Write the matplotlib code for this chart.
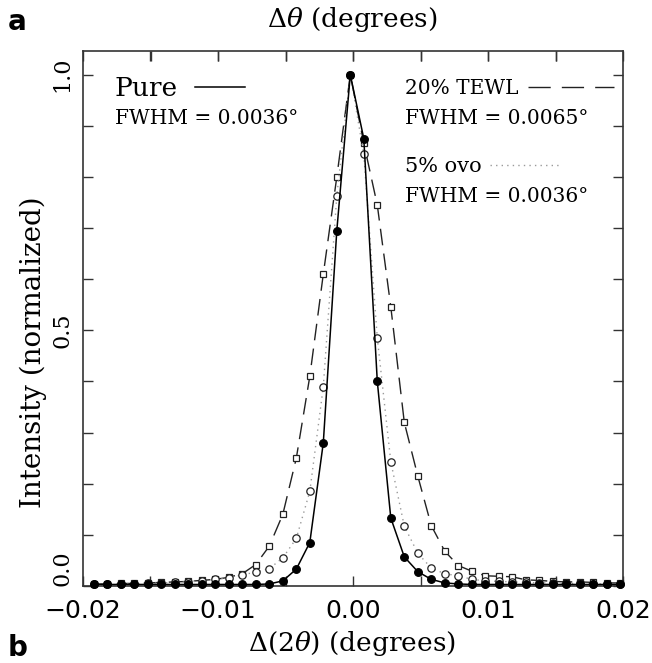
import matplotlib
matplotlib.use('Agg')
import matplotlib.pyplot as plt
from matplotlib.ticker import MultipleLocator, NullFormatter, FixedLocator
from matplotlib.lines import Line2D

plt.rcParams['mathtext.fontset'] = 'dejavuserif'
plt.rcParams['font.family'] = 'DejaVu Serif'

# ---- data ----
delta_2theta = [-0.0192, -0.0182, -0.0172, -0.0162, -0.0152, -0.0142, -0.0132, -0.0122,
                -0.0112, -0.0102, -0.0092, -0.0082, -0.0072, -0.0062, -0.0052, -0.0042,
                -0.0032, -0.0022, -0.0012, -0.0002, 0.0008, 0.0018, 0.0028, 0.0038,
                0.0048, 0.0058, 0.0068, 0.0078, 0.0088, 0.0098, 0.0108, 0.0118,
                0.0128, 0.0138, 0.0148, 0.0158, 0.0168, 0.0178, 0.0188, 0.0198]

pure = [0.003, 0.003, 0.003, 0.003, 0.003, 0.003, 0.003, 0.003,
        0.003, 0.003, 0.003, 0.003, 0.003, 0.004, 0.010, 0.033,
        0.085, 0.28, 0.695, 1.0, 0.875, 0.40, 0.133, 0.057,
        0.028, 0.013, 0.006, 0.004, 0.003, 0.003, 0.003, 0.003,
        0.003, 0.003, 0.003, 0.003, 0.003, 0.003, 0.003, 0.003]

tewl = [0.004, 0.004, 0.005, 0.005, 0.006, 0.007, 0.008, 0.009,
        0.011, 0.013, 0.017, 0.024, 0.042, 0.078, 0.14, 0.25,
        0.41, 0.61, 0.80, 1.0, 0.866, 0.745, 0.546, 0.32,
        0.215, 0.118, 0.068, 0.040, 0.029, 0.020, 0.019, 0.018,
        0.012, 0.011, 0.009, 0.008, 0.008, 0.007, 0.006, 0.006]

ovo = [0.003, 0.003, 0.004, 0.004, 0.005, 0.006, 0.007, 0.008,
       0.010, 0.013, 0.016, 0.022, 0.027, 0.034, 0.055, 0.093,
       0.185, 0.39, 0.763, 1.0, 0.844, 0.485, 0.243, 0.117,
       0.064, 0.035, 0.024, 0.020, 0.013, 0.010, 0.009, 0.008,
       0.007, 0.006, 0.006, 0.005, 0.005, 0.004, 0.004, 0.004]

x_tick_labels = ['\u22120.02', '\u22120.01', '0.00', '0.01', '0.02']
y_tick_labels = ['0.0', '0.5', '1.0']

W, H = 652, 663
def fx(px):
    return px / W
def fy(py):
    return 1 - py / H

fig = plt.figure(figsize=(W / 100, H / 100), dpi=100)
ax = fig.add_axes([fx(83), fy(586), (623 - 83) / W, (586 - 50.7) / H])

# series
ax.plot(delta_2theta, tewl, color='#222222', lw=1.0, ls=(0, (12, 6)),
        marker='s', ms=4.3, mfc='white', mec='#222222', mew=0.9, clip_on=False, zorder=3)
ax.plot(delta_2theta, ovo, color='#9a9a9a', lw=1.0, ls=(0, (1, 3)),
        marker='o', ms=5.3, mfc='white', mec='#222222', mew=0.9, clip_on=False, zorder=3)
ax.plot(delta_2theta, pure, color='black', lw=1.1, ls='-',
        marker='o', ms=5.5, mfc='black', mec='black', mew=0.9, clip_on=False, zorder=4)

ax.set_xlim(-0.02, 0.02)
ax.set_ylim(0.0, 1.047)

# ticks
ax.xaxis.set_major_locator(FixedLocator([-0.02, -0.01, 0.0, 0.01, 0.02]))
ax.set_xticklabels(x_tick_labels, family='DejaVu Sans', fontsize=18)
ax.xaxis.set_minor_locator(MultipleLocator(0.005))
ax.yaxis.set_major_locator(FixedLocator([0.0, 0.5, 1.0]))
ax.set_yticklabels(y_tick_labels, fontsize=16, rotation=90, va='center')
ax.get_yticklabels()[0].set_va('bottom')
ax.yaxis.set_minor_locator(MultipleLocator(0.1))
ax.tick_params(which='both', direction='in', length=7, width=1.0,
               top=True, right=True, color='#333333')
ax.tick_params(axis='x', which='major', pad=9)
ax.tick_params(axis='y', which='major', pad=7)
for s in ax.spines.values():
    s.set_linewidth(1.2)
    s.set_color('#333333')

# top axis: delta theta (half of delta 2theta)
sec = ax.secondary_xaxis('top', functions=(lambda v: v / 2, lambda v: v * 2))
sec.set_xticks([-0.0075, -0.005, -0.0025, 0.0, 0.0025, 0.005, 0.0075])
sec.xaxis.set_major_formatter(NullFormatter())
sec.tick_params(direction='in', length=7, width=1.0, color='#333333')
sec.spines['top'].set_visible(False)

# axis titles
fig.text(fx(352), fy(20), r'$\Delta\theta$ (degrees)', ha='center', va='center', fontsize=19)
fig.text(fx(352), fy(643), r'$\Delta(2\theta)$ (degrees)', ha='center', va='center', fontsize=19)
fig.text(fx(33), fy(352), 'Intensity (normalized)', rotation=90, ha='center', va='center', fontsize=20)

# panel labels
fig.text(fx(8), fy(22), 'a', family='DejaVu Sans', fontweight='bold', fontsize=20, ha='left', va='center')
fig.text(fx(8), fy(648), 'b', family='DejaVu Sans', fontweight='bold', fontsize=20, ha='left', va='center')

# legend-like annotations
fig.text(fx(115), fy(88), 'Pure', fontsize=19, ha='left', va='center')
fig.add_artist(Line2D([fx(195), fx(245)], [fy(87), fy(87)], color='black', lw=1.1))
fig.text(fx(115), fy(118), 'FWHM = 0.0036\u00b0', fontsize=14.5, ha='left', va='center')

fig.text(fx(405), fy(88), '20% TEWL', fontsize=14.5, ha='left', va='center')
fig.add_artist(Line2D([fx(528), fx(614)], [fy(87), fy(87)], color='#222222', lw=1.0, ls=(0, (16, 8))))
fig.text(fx(405), fy(118), 'FWHM = 0.0065\u00b0', fontsize=14.5, ha='left', va='center')

fig.text(fx(405), fy(167), '5% ovo', fontsize=15, ha='left', va='center')
fig.add_artist(Line2D([fx(490), fx(560)], [fy(165), fy(165)], color='#9a9a9a', lw=1.0, ls=(0, (1, 3))))
fig.text(fx(405), fy(196), 'FWHM = 0.0036\u00b0', fontsize=14.5, ha='left', va='center')

fig.savefig('out.png', dpi=100)
